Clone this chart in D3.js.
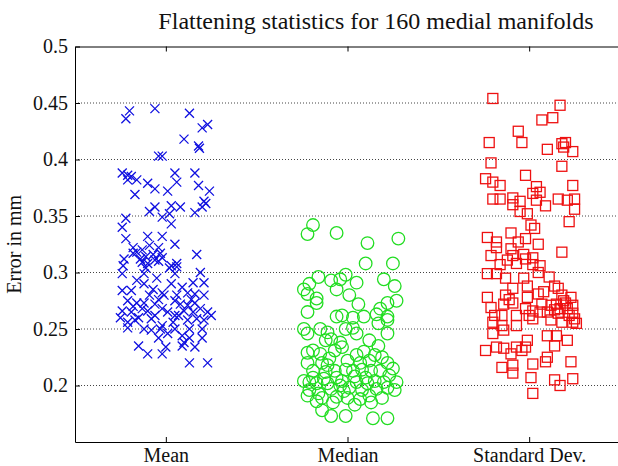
<!DOCTYPE html>
<html>
<head>
<meta charset="utf-8">
<script src="https://cdn.jsdelivr.net/npm/d3@7"></script>
<style>
  body { margin: 0; background: #fff; }
  svg { display: block; font-family: "Liberation Serif", "Times New Roman", serif; }
</style>
</head>
<body>
<svg id="chart"></svg>
<script>
// categories and tick values
const categories = ['Mean', 'Median', 'Standard Dev.']
const yTicks = [0.2, 0.25, 0.3, 0.35, 0.4, 0.45, 0.5]

// [x jitter around category, error in mm]
const meanPts = [
  [-0.20,0.443],[-0.22,0.436],[-0.06,0.445],[0.13,0.441],[0.20,0.428],[0.23,0.431],
  [0.10,0.418],[0.18,0.412],[0.185,0.410],[-0.04,0.403],[-0.02,0.403],
  [-0.24,0.388],[-0.21,0.386],[-0.21,0.382],[-0.16,0.382],[-0.19,0.385],
  [-0.10,0.379],[-0.06,0.374],[0.05,0.388],[0.06,0.380],[0.16,0.388],[0.18,0.377],[0.24,0.372],[0.01,0.372],[-0.17,0.369],
  [0.03,0.359],[0.08,0.358],[-0.06,0.358],[-0.09,0.354],[-0.02,0.349],[0.02,0.352],[0.03,0.343],
  [0.16,0.353],[0.20,0.358],[0.22,0.361],[0.21,0.363],
  [-0.22,0.348],[-0.24,0.340],[-0.22,0.330],[-0.10,0.332],[-0.02,0.332],
  [-0.18,0.322],[-0.13,0.320],[-0.09,0.324],[-0.04,0.322],[-0.03,0.317],[0.05,0.325],
  [-0.23,0.312],[-0.18,0.317],[0.17,0.316],[-0.13,0.309],[-0.10,0.308],[-0.06,0.311],[-0.04,0.310],[0.03,0.306],[0.06,0.308],[-0.235,0.306],
  [-0.16,0.318],[-0.11,0.314],[-0.07,0.316],[-0.02,0.313],[-0.14,0.312],
  [-0.24,0.299],[-0.12,0.299],[-0.11,0.304],[0.02,0.304],[0.06,0.305],[0.05,0.299],[0.19,0.300],
  [0.15,0.291],[0.21,0.291],[-0.12,0.290],[-0.24,0.284],[-0.19,0.284],[-0.02,0.282],[-0.01,0.280],[0.06,0.280],[0.12,0.282],[0.16,0.281],[0.21,0.280],
  [-0.21,0.275],[-0.16,0.273],[-0.12,0.273],[-0.06,0.272],[-0.04,0.276],[0.05,0.275],[0.08,0.272],[0.12,0.271],[0.16,0.273],
  [-0.24,0.266],[-0.19,0.265],[-0.15,0.260],[-0.10,0.266],[-0.06,0.262],[0.01,0.265],[0.05,0.262],[0.10,0.266],[0.15,0.265],[0.23,0.265],[0.25,0.262],
  [-0.25,0.260],[-0.21,0.256],[-0.17,0.258],[-0.08,0.259],[0.04,0.256],[0.12,0.258],[0.17,0.259],[0.21,0.258],
  [-0.21,0.251],[-0.12,0.250],[-0.08,0.249],[-0.03,0.250],[-0.02,0.253],[0.05,0.250],[0.13,0.250],[0.20,0.250],
  [-0.04,0.242],[0.01,0.246],[0.09,0.244],[0.10,0.238],[0.13,0.242],[0.20,0.242],
  [-0.15,0.235],[-0.10,0.228],[-0.02,0.228],[0.00,0.234],[0.09,0.235],[0.16,0.234],[0.13,0.220],[0.23,0.220],
  [-0.18,0.270],[-0.13,0.268],[-0.07,0.285],[0.03,0.290],[0.09,0.287],[-0.05,0.295],[0.19,0.268],[-0.09,0.280],
  [0.14,0.276],[-0.16,0.293],[-0.02,0.268],[0.07,0.262]
]

const medianPts = [
  [-0.19,0.342],[-0.22,0.334],[-0.06,0.335],[0.11,0.326],[0.28,0.330],[0.10,0.308],[0.25,0.308],[0.26,0.288],
  [0.20,0.294],[0.27,0.275],[0.18,0.268],[0.22,0.258],
  [-0.16,0.296],[-0.09,0.293],[-0.04,0.294],[-0.01,0.298],[0.05,0.291],[-0.21,0.290],[-0.24,0.285],[-0.22,0.281],
  [-0.17,0.277],[-0.06,0.285],[0.01,0.280],[0.06,0.272],
  [-0.22,0.265],[-0.06,0.261],[-0.03,0.262],[0.03,0.260],[0.09,0.261],[-0.17,0.273],[0.22,0.273],
  [0.16,0.263],[0.22,0.261],[0.17,0.255],
  [-0.24,0.250],[-0.22,0.246],[-0.11,0.247],[-0.01,0.250],[0.03,0.251],[0.05,0.246],[0.22,0.246],
  [-0.12,0.240],[-0.09,0.241],[-0.04,0.238],[-0.03,0.234],[0.17,0.235],
  [-0.22,0.229],[-0.19,0.231],[-0.15,0.228],[-0.07,0.231],[0.05,0.227],
  [-0.22,0.220],[-0.14,0.220],[-0.11,0.218],[-0.10,0.224],[0.00,0.222],[0.07,0.220],[0.12,0.222],[0.15,0.227],[0.19,0.225],[0.22,0.220],
  [-0.19,0.213],[-0.12,0.212],[-0.07,0.213],[-0.01,0.214],[0.03,0.213],[0.08,0.214],[0.13,0.213],[0.18,0.213],[0.23,0.209],
  [-0.24,0.204],[-0.21,0.203],[-0.17,0.202],[-0.21,0.196],[-0.16,0.193],[-0.11,0.202],[-0.09,0.197],[-0.04,0.200],
  [-0.03,0.204],[0.01,0.198],[0.05,0.203],[0.08,0.196],[0.11,0.202],[0.15,0.204],[0.16,0.197],[0.22,0.198],[0.26,0.196],
  [-0.22,0.191],[-0.14,0.189],[-0.06,0.190],[0.00,0.189],[0.07,0.188],[0.12,0.191],[0.19,0.189],
  [-0.14,0.178],[-0.09,0.173],[-0.01,0.173],[0.14,0.171],[0.22,0.171],
  [-0.19,0.207],[-0.06,0.207],[0.04,0.208],[0.10,0.207],[-0.13,0.206],[-0.02,0.195],[0.13,0.185],[0.04,0.183],
  [-0.08,0.185],[0.20,0.203],[-0.17,0.186],[0.09,0.230],[0.12,0.240],[-0.15,0.250],[0.25,0.215],[0.27,0.203]
]

const stdPts = [
  [-0.20,0.454],[0.17,0.448],[0.13,0.437],[0.07,0.435],[-0.06,0.425],[-0.22,0.415],[-0.04,0.415],[0.10,0.409],
  [0.18,0.414],[0.20,0.415],[0.19,0.411],[0.24,0.407],
  [-0.21,0.397],[0.18,0.394],[-0.24,0.383],[-0.20,0.380],[-0.16,0.377],[-0.02,0.386],[0.04,0.376],[0.06,0.371],[0.02,0.370],[0.24,0.377],
  [-0.20,0.365],[-0.16,0.365],[-0.09,0.366],[-0.05,0.363],[-0.09,0.360],[0.04,0.364],[0.09,0.359],[0.16,0.365],[0.21,0.364],[0.25,0.365],[0.25,0.356],
  [-0.05,0.354],[-0.01,0.352],[0.22,0.345],[0.01,0.342],[0.03,0.339],[-0.10,0.335],[-0.23,0.331],[-0.18,0.327],[-0.18,0.322],
  [-0.06,0.327],[-0.02,0.330],[0.05,0.325],[-0.10,0.321],[0.18,0.318],
  [-0.21,0.315],[-0.09,0.315],[-0.03,0.316],[-0.02,0.312],[0.02,0.313],
  [-0.12,0.311],[-0.07,0.308],[0.02,0.307],[0.06,0.306],[0.05,0.300],
  [-0.23,0.299],[-0.18,0.299],[-0.13,0.295],[-0.03,0.295],[-0.09,0.286],[-0.01,0.288],[0.14,0.288],[0.16,0.286],
  [-0.23,0.278],[-0.13,0.280],[-0.01,0.278],[0.05,0.281],[0.18,0.280],[0.23,0.278],
  [-0.21,0.269],[-0.14,0.272],[-0.09,0.273],[-0.02,0.268],[0.02,0.266],[0.07,0.272],[0.12,0.271],[0.15,0.272],[0.17,0.268],[0.20,0.273],[0.24,0.271],
  [-0.19,0.262],[-0.15,0.262],[-0.07,0.262],[0.00,0.262],[0.06,0.265],[0.10,0.265],[0.16,0.264],[0.24,0.264],[0.26,0.255],[0.24,0.256],
  [-0.20,0.256],[-0.15,0.253],[-0.07,0.253],[0.02,0.259],[0.12,0.258],[0.18,0.256],
  [-0.20,0.246],[-0.14,0.249],[0.10,0.244],[0.15,0.244],[0.21,0.240],
  [-0.24,0.231],[-0.18,0.234],[-0.14,0.233],[-0.07,0.234],[-0.04,0.231],[-0.01,0.240],[-0.02,0.234],[0.14,0.235],
  [-0.10,0.228],[0.10,0.225],[0.09,0.221],[0.23,0.221],
  [-0.15,0.216],[-0.09,0.218],[0.02,0.219],[-0.09,0.211],[0.01,0.207],[0.14,0.205],[0.17,0.200],[0.24,0.206],[0.02,0.193],
  [0.19,0.275],[0.21,0.268],[0.14,0.267],[-0.11,0.276],[0.08,0.283],[-0.16,0.307],[0.11,0.296],[0.22,0.262],[0.25,0.259]
]

const w = 618, h = 466
const svg = d3.select('#chart').attr('width', w).attr('height', h)
svg.append('rect').attr('width', w).attr('height', h).attr('fill', '#fff')

const mLeft = 75, mRight = 620, mTop = 46.5, mBottom = 442

const x = d3.scaleLinear().domain([0.5, 3.5]).range([mLeft, mRight])
const y = d3.scaleLinear().domain([0.15, 0.5]).range([mBottom, mTop])

// dotted grid
svg.append('g').selectAll('line')
  .data(yTicks.filter(t => t < 0.5)).enter()
  .append('line')
  .attr('x1', mLeft).attr('x2', w)
  .attr('y1', d => y(d)).attr('y2', d => y(d))
  .attr('stroke', '#444').attr('stroke-width', 1)
  .attr('stroke-dasharray', '1,2')

// axes
const fmt = d => String(+d.toFixed(2))
const gy = svg.append('g').attr('transform', `translate(${mLeft},0)`)
  .call(d3.axisLeft(y).tickValues(yTicks).tickFormat(fmt).tickSize(-5).tickSizeOuter(0).tickPadding(7))
const gx = svg.append('g').attr('transform', `translate(0,${mBottom})`)
  .call(d3.axisBottom(x).tickValues([1, 2, 3]).tickFormat(d => categories[d - 1]).tickSize(-5).tickSizeOuter(0).tickPadding(6))
const gt = svg.append('g').attr('transform', `translate(0,${mTop})`)
  .call(d3.axisTop(x).tickValues([1, 2, 3]).tickFormat('').tickSize(-5).tickSizeOuter(0))

;[gy, gx, gt].forEach(g => {
  g.selectAll('path,line').attr('stroke', '#000').attr('stroke-width', 1)
  g.selectAll('text').attr('fill', '#111').attr('font-size', 20)
    .attr('font-family', '"Liberation Serif", serif')
})

// markers
const mean = svg.append('g').attr('stroke', '#1010e0').attr('stroke-width', 1.3).attr('fill', 'none')
mean.selectAll('path').data(meanPts).enter()
  .append('path')
  .attr('d', d => {
    let cx = x(1 + d[0]), cy = y(d[1]), s = 4.5
    return `M${cx - s},${cy - s}L${cx + s},${cy + s}M${cx - s},${cy + s}L${cx + s},${cy - s}`
  })

svg.append('g').attr('stroke', '#22dd22').attr('stroke-width', 1.3).attr('fill', 'none')
  .selectAll('circle').data(medianPts).enter()
  .append('circle')
  .attr('cx', d => x(2 + d[0])).attr('cy', d => y(d[1])).attr('r', 6.3)

svg.append('g').attr('stroke', '#ee1111').attr('stroke-width', 1.3).attr('fill', 'none')
  .selectAll('rect').data(stdPts).enter()
  .append('rect')
  .attr('x', d => x(3 + d[0]) - 5).attr('y', d => y(d[1]) - 5)
  .attr('width', 10).attr('height', 10)

// title and label
svg.append('text')
  .attr('x', 376).attr('y', 29)
  .attr('text-anchor', 'middle')
  .attr('font-size', 24).attr('fill', '#111')
  .text('Flattening statistics for 160 medial manifolds')

svg.append('text')
  .attr('transform', `translate(21,${(mTop + mBottom) / 2}) rotate(-90)`)
  .attr('text-anchor', 'middle')
  .attr('font-size', 20).attr('fill', '#111')
  .text('Error in mm')
</script>
</body>
</html>
